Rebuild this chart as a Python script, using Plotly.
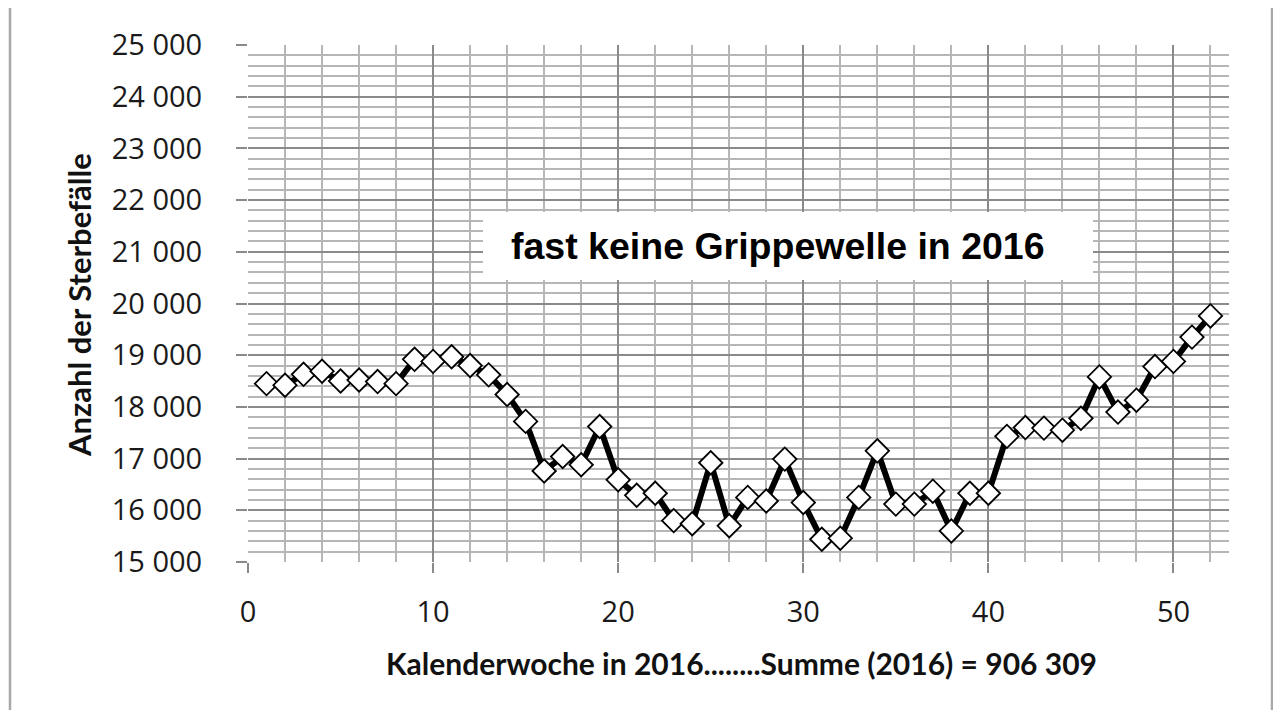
import plotly.graph_objects as go

weeks = list(range(1, 53))
deaths = [
    18450, 18420, 18630, 18690, 18500, 18520, 18490, 18450, 18920, 18880,
    18970, 18800, 18620, 18240, 17720, 16760, 17040, 16880, 17620, 16590,
    16290, 16330, 15800, 15740, 16920, 15700, 16250, 16180, 16990, 16150,
    15440, 15460, 16250, 17150, 16120, 16120, 16370, 15600, 16330, 16330,
    17430, 17600, 17590, 17550, 17780, 18580, 17900, 18130, 18780, 18880,
    19350, 19760,
]
y_title = "Anzahl der Sterbefälle"
x_title = "Kalenderwoche in 2016........Summe (2016) = 906 309"
note = "fast keine Grippewelle in 2016"

# page offset from default body margin
OFF = 8
W, H = 1281 - 2 * OFF, 718 - 2 * OFF
# target plot area in window pixels: x 248..1229, y 45..562
L, T = 248 - OFF, 45 - OFF
R = W - (1229 - OFF)
B = H - (562 - OFF)
pw, ph = W - L - R, H - T - B


def px(xp):
    return (xp - OFF - L) / pw


def py(yp):
    return (H - B - (yp - OFF)) / ph


fig = go.Figure()
fig.add_trace(go.Scatter(
    x=weeks, y=deaths, mode="lines+markers",
    line=dict(color="black", width=6),
    marker=dict(symbol="diamond", size=18, color="white",
                line=dict(color="black", width=1.8)),
    showlegend=False,
))

major = "#8a8a8a"
minor = "#b6b6b6"
tickfont = dict(family="Open Sans", size=29, color="#1a1a1a")

fig.update_layout(
    width=W, height=H,
    margin=dict(l=L, r=R, t=T, b=B, autoexpand=False),
    paper_bgcolor="white", plot_bgcolor="white",
    separators=", ",
    xaxis=dict(
        range=[0, 53], tick0=0, dtick=10,
        showgrid=True, gridcolor=major, gridwidth=2,
        ticks="outside", ticklen=10, tickwidth=2, tickcolor=major,
        tickfont=tickfont, ticklabelstandoff=14,
        minor=dict(dtick=2, tick0=0, showgrid=True, gridcolor=minor, gridwidth=1.7, ticks=""),
        showline=False, zeroline=False,
    ),
    yaxis=dict(
        range=[15000, 25000], tick0=15000, dtick=1000, tickformat=",d",
        showgrid=True, gridcolor=major, gridwidth=2,
        ticks="outside", ticklen=11, tickwidth=2, tickcolor=major,
        tickfont=tickfont, ticklabelstandoff=28,
        minor=dict(dtick=200, tick0=15000, showgrid=True, gridcolor=minor, gridwidth=1.7, ticks=""),
        showline=False, zeroline=False,
    ),
    shapes=[
        dict(type="rect", xref="paper", yref="paper",
             x0=px(483), x1=px(1093), y0=py(280), y1=py(212),
             fillcolor="white", line=dict(width=0), layer="above"),
        dict(type="rect", xref="paper", yref="paper",
             x0=px(10), x1=px(1272), y0=py(740), y1=py(6),
             fillcolor="rgba(0,0,0,0)", line=dict(color="#a8a8a8", width=2.5), layer="above"),
    ],
    annotations=[
        dict(text=note, xref="paper", yref="paper", x=px(778), y=py(246),
             xanchor="center", yanchor="middle", showarrow=False,
             font=dict(family="Liberation Sans", size=37.5, color="black", weight="bold")),
        dict(text=y_title, xref="paper", yref="paper", x=px(79), y=py(305),
             xanchor="center", yanchor="middle", showarrow=False, textangle=-90,
             font=dict(family="Lato", size=31, color="#111111", weight="bold")),
        dict(text=x_title, xref="paper", yref="paper", x=px(741), y=py(663),
             xanchor="center", yanchor="middle", showarrow=False,
             font=dict(family="Lato", size=30, color="#111111", weight="bold")),
    ],
)

fig.write_html("out.html")
